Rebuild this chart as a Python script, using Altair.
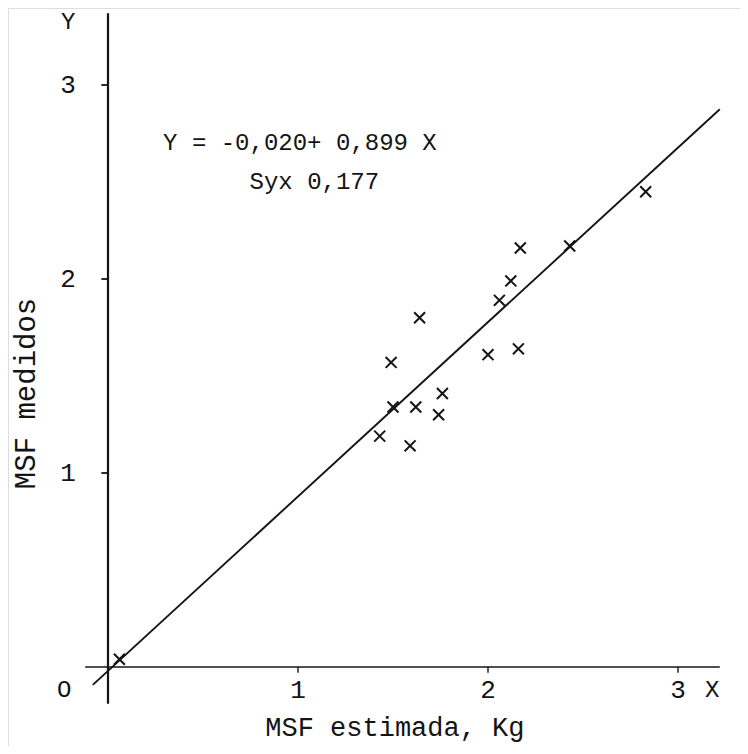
import altair as alt
import pandas as pd

x_est = [0.06, 1.43, 1.50, 1.49, 1.64, 1.62, 1.59, 1.76, 1.74, 2.00, 2.06, 2.12, 2.17, 2.16, 2.43, 2.83]
y_med = [0.04, 1.19, 1.34, 1.57, 1.80, 1.34, 1.14, 1.41, 1.30, 1.61, 1.89, 1.99, 2.16, 1.64, 2.17, 2.45]

# regression line Y = -0,020 + 0,899 X
intercept = -0.020
slope = 0.899
line_x = [-0.08, 3.22]

tick_values = [1, 2, 3]
tick_labels = ["1", "2", "3"]

eq_text = "Y  = -0,020+ 0,899 X"
syx_text = "Syx 0,177"
x_title = "MSF estimada, Kg"
y_title = "MSF medidos"

FONT = "Liberation Mono"
INK = "#141414"

W, H = 732, 738
xs = alt.Scale(domain=[-0.5263, 3.3263], nice=False, zero=False)
ys = alt.Scale(domain=[-0.4072, 3.3969], nice=False, zero=False)

pts = pd.DataFrame({"x": x_est, "y": y_med})
reg = pd.DataFrame({"x": line_x, "y": [intercept + slope * v for v in line_x]})

X = lambda f="x": alt.X(f"{f}:Q", scale=xs, axis=None)
Y = lambda f="y": alt.Y(f"{f}:Q", scale=ys, axis=None)

# axes lines
yaxis = alt.Chart(pd.DataFrame({"x": [0.0], "y": [3.37], "y2": [-0.19]})).mark_rule(
    color=INK, strokeWidth=2.2).encode(x=X(), y=Y(), y2="y2:Q")
xaxis = alt.Chart(pd.DataFrame({"x": [-0.12], "x2": [3.22], "y": [0.0]})).mark_rule(
    color=INK, strokeWidth=1.6).encode(x=X(), x2="x2:Q", y=Y())

# ticks
ytk = alt.Chart(pd.DataFrame({"x": [-0.035] * 3, "x2": [0.0] * 3, "y": tick_values})).mark_rule(
    color=INK, strokeWidth=1.8).encode(x=X(), x2="x2:Q", y=Y())
xtk = alt.Chart(pd.DataFrame({"x": tick_values, "y": [0.0] * 3, "y2": [-0.03] * 3})).mark_rule(
    color=INK, strokeWidth=1.4).encode(x=X(), y=Y(), y2="y2:Q")

# regression line
line = alt.Chart(reg).mark_line(color=INK, strokeWidth=1.9).encode(x=X(), y=Y())

# points as x marks
cross = "M-1,-1L1,1M-1,1L1,-1"
points = alt.Chart(pts).mark_point(shape=cross, size=120, color=INK, strokeWidth=2.0,
                                   filled=False, opacity=1).encode(x=X(), y=Y())

# tick labels
ylab = alt.Chart(pd.DataFrame({"x": [-0.21] * 3, "y": tick_values, "t": tick_labels})).mark_text(
    font=FONT, fontSize=26, color=INK, align="center", baseline="middle").encode(
    x=X(), y=Y(), text="t:N")
xlab = alt.Chart(pd.DataFrame({"x": tick_values, "y": [-0.12] * 3, "t": tick_labels})).mark_text(
    font=FONT, fontSize=26, color=INK, align="center", baseline="middle").encode(
    x=X(), y=Y(), text="t:N")

ann = pd.DataFrame({
    "x": [-0.23, 3.18, -0.21],
    "y": [-0.12, -0.12, 3.325],
    "t": ["O", "X", "Y"],
})
annot = alt.Chart(ann).mark_text(font=FONT, fontSize=24, color=INK, align="center",
                                 baseline="middle").encode(x=X(), y=Y(), text="t:N")

eq = alt.Chart(pd.DataFrame({"x": [0.29, 0.745], "y": [2.70, 2.50], "t": [eq_text, syx_text]})).mark_text(
    font=FONT, fontSize=24, color=INK, align="left", baseline="middle").encode(
    x=X(), y=Y(), text="t:N")

xt = alt.Chart(pd.DataFrame({"x": [1.51], "y": [-0.355], "t": [x_title]})).mark_text(
    font=FONT, fontSize=27, color=INK, align="center", baseline="alphabetic").encode(
    x=X(), y=Y(), text="t:N")
yt = alt.Chart(pd.DataFrame({"x": [-0.43], "y": [1.41], "t": [y_title]})).mark_text(
    font=FONT, fontSize=29, color=INK, align="center", baseline="middle", angle=270).encode(
    x=X(), y=Y(), text="t:N")

chart = alt.layer(yaxis, xaxis, ytk, xtk, line, points, ylab, xlab, annot, eq, xt, yt).properties(
    width=W, height=H, autosize=alt.AutoSizeParams(type="none"), padding=0
).configure_view(stroke=None).configure(background="white")

chart.save("out.html", embed_options={"renderer": "svg", "actions": False})
